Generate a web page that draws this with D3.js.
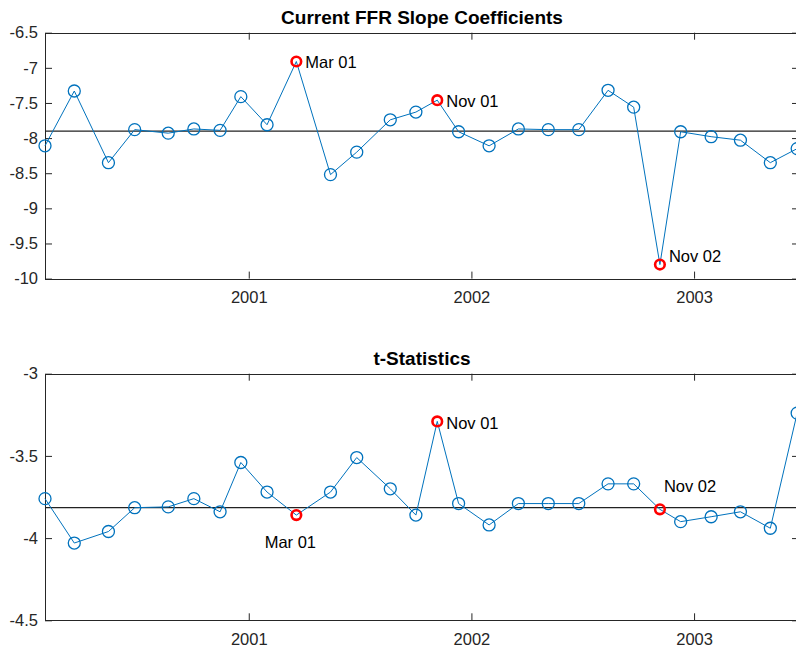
<!DOCTYPE html>
<html lang="en">
<head>
<meta charset="UTF-8">
<title>Current FFR Slope Coefficients</title>
<script src="https://d3js.org/d3.v7.min.js"></script>
<style>
    body { margin: 0; background: #fff; }
    svg { display: block; font-family: "Liberation Sans", Arial, Helvetica, sans-serif; }
    .tick text { font-size: 16.5px; fill: #262626; }
    .tick line { stroke: #262626; }
    .box { fill: none; stroke: #262626; stroke-width: 1; shape-rendering: crispEdges; }
    .title { font-size: 19px; font-weight: bold; fill: #000; }
    .note { font-size: 16.5px; fill: #000; }
</style>
</head>
<body>
<svg id="chart" width="796" height="652"></svg>

<script>
// meeting dates (x positions) and the two series
const dates = ["2000-02-02","2000-03-21","2000-05-16","2000-06-28","2000-08-22","2000-10-03",
    "2000-11-15","2000-12-19","2001-01-31","2001-03-20","2001-05-15","2001-06-27","2001-08-21",
    "2001-10-02","2001-11-06","2001-12-11","2002-01-30","2002-03-19","2002-05-07","2002-06-26",
    "2002-08-13","2002-09-24","2002-11-06","2002-12-10","2003-01-29","2003-03-18","2003-05-06",
    "2003-06-19"];
const slopes = [-8.11,-7.33,-8.35,-7.88,-7.93,-7.87,-7.89,-7.41,-7.81,-6.91,-8.52,-8.20,-7.74,
    -7.63,-7.46,-7.91,-8.11,-7.87,-7.88,-7.88,-7.32,-7.56,-9.80,-7.91,-7.98,-8.03,-8.35,-8.15];
const tstats = [-3.76,-4.03,-3.96,-3.815,-3.81,-3.76,-3.84,-3.54,-3.72,-3.86,-3.72,-3.51,-3.70,
    -3.86,-3.29,-3.79,-3.92,-3.79,-3.79,-3.79,-3.67,-3.67,-3.825,-3.90,-3.87,-3.84,-3.94,-3.24];
const slopeRef = -7.90;
const tstatRef = -3.815;

const highlights = [9, 14, 22];
const highlightLabels = ["Mar 01", "Nov 01", "Nov 02"];

const slopeTicks = [-10, -9.5, -9, -8.5, -8, -7.5, -7, -6.5];
const tstatTicks = [-4.5, -4, -3.5, -3];
const yearTicks = ["2001-01-01", "2002-01-01", "2003-01-01"];
const xLimits = ["2000-02-02", "2003-06-22"];

const parse = d3.timeParse("%Y-%m-%d");
const svg = d3.select("#chart");

const x = d3.scaleTime()
    .domain(xLimits.map(parse))
    .range([45, 799]);

function panel(opts) {
    const y = d3.scaleLinear().domain(opts.domain).range([opts.bottom, opts.top]);
    const g = svg.append("g");
    const left = x.range()[0], right = x.range()[1];

    g.append("rect").attr("class", "box")
        .attr("x", left + 0.5).attr("y", opts.top + 0.5)
        .attr("width", right - left).attr("height", opts.bottom - opts.top);

    const fmt = d => String(d);
    g.append("g").attr("transform", `translate(0,${opts.bottom})`)
        .call(d3.axisBottom(x).tickValues(yearTicks.map(parse)).tickSize(-7).tickPadding(13)
            .tickFormat(d3.timeFormat("%Y")))
        .call(a => a.select(".domain").remove());
    g.append("g").attr("transform", `translate(0,${opts.top})`)
        .call(d3.axisTop(x).tickValues(yearTicks.map(parse)).tickSize(-7).tickFormat(""))
        .call(a => a.select(".domain").remove());
    g.append("g").attr("transform", `translate(${left},0)`)
        .call(d3.axisLeft(y).tickValues(opts.ticks).tickSize(-7).tickPadding(7).tickFormat(fmt))
        .call(a => a.select(".domain").remove());
    g.append("g").attr("transform", `translate(${right},0)`)
        .call(d3.axisRight(y).tickValues(opts.ticks).tickSize(-7).tickFormat(""))
        .call(a => a.select(".domain").remove());

    g.append("text").attr("class", "title")
        .attr("x", (left + right) / 2).attr("y", opts.top - 9)
        .attr("text-anchor", "middle").text(opts.title);

    // reference line
    g.append("line")
        .attr("x1", left).attr("x2", right)
        .attr("y1", y(opts.ref)).attr("y2", y(opts.ref))
        .attr("stroke", "#222").attr("stroke-width", 1.3);

    const pts = dates.map((d, i) => ({ date: parse(d), v: opts.values[i], i }));

    g.append("path").datum(pts)
        .attr("fill", "none").attr("stroke", "#0072BD").attr("stroke-width", 1)
        .attr("d", d3.line().x(d => x(d.date)).y(d => y(d.v)));

    g.selectAll("circle.m").data(pts.filter(d => !highlights.includes(d.i))).join("circle")
        .attr("class", "m")
        .attr("cx", d => x(d.date)).attr("cy", d => y(d.v)).attr("r", 6)
        .attr("fill", "none").attr("stroke", "#0072BD").attr("stroke-width", 1.3);

    g.selectAll("circle.h").data(pts.filter(d => highlights.includes(d.i))).join("circle")
        .attr("class", "h")
        .attr("cx", d => x(d.date)).attr("cy", d => y(d.v)).attr("r", 4.8)
        .attr("fill", "none").attr("stroke", "#FF0000").attr("stroke-width", 2.6);

    highlights.forEach((idx, k) => {
        const off = opts.labelOffsets[k];
        g.append("text").attr("class", "note")
            .attr("x", x(parse(dates[idx])) + off[0])
            .attr("y", y(opts.values[idx]) + off[1])
            .attr("dy", "0.35em")
            .attr("text-anchor", off[2])
            .text(highlightLabels[k]);
    });
}

panel({
    title: "Current FFR Slope Coefficients",
    values: slopes, ref: slopeRef,
    domain: [-10, -6.5], ticks: slopeTicks,
    top: 32.7, bottom: 278.6,
    labelOffsets: [[9, 1, "start"], [9, 1, "start"], [9, -8, "start"]]
});

panel({
    title: "t-Statistics",
    values: tstats, ref: tstatRef,
    domain: [-4.5, -3], ticks: tstatTicks,
    top: 373.7, bottom: 620.3,
    labelOffsets: [[-6, 27, "middle"], [9, 2, "start"], [4, -23, "start"]]
});
</script>
</body>
</html>
